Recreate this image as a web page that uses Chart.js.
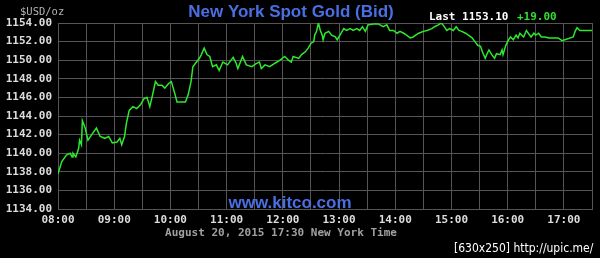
<!DOCTYPE html>
<html>
<head>
<meta charset="utf-8">
<script src="https://cdn.jsdelivr.net/npm/chart.js@4"></script>
<style>
  html, body { margin: 0; padding: 0; background: #000; }
  #wrap { width: 600px; height: 258px; }
</style>
</head>
<body>
<div id="wrap"><canvas id="c1" width="600" height="258"></canvas></div>
<script>
// minutes after 08:00 New York time, and the bid at that moment
var minutesFromOpen = [
  0, 4, 9, 13, 15, 16, 19, 22, 23, 25,
  26, 29, 32, 36, 41, 45, 50, 54, 58, 63,
  66, 68, 71, 73, 76, 80, 84, 88, 92, 95,
  98, 101, 104, 107, 111, 114, 118, 121, 125, 127,
  132, 136, 139, 142, 144, 147, 151, 153, 156, 159,
  162, 165, 169, 172, 176, 181, 187, 190, 192, 197,
  201, 207, 211, 215, 217, 221, 226, 232, 237, 242,
  246, 249, 251, 257, 260, 264, 267, 270, 273, 274,
  276, 278, 280, 282, 283, 285, 289, 292, 296, 298,
  301, 305, 308, 312, 315, 319, 322, 325, 328, 331,
  337, 342, 347, 351, 354, 358, 362, 365, 369, 372,
  376, 379, 385, 390, 394, 399, 402, 406, 409, 411,
  415, 418, 422, 425, 428, 431, 435, 438, 442, 445,
  448, 451, 453, 456, 458, 460, 463, 466, 468, 472,
  474, 475, 478, 481, 483, 486, 489, 491, 493, 497,
  500, 502, 505, 508, 510, 513, 516, 520, 524, 529,
  534, 538, 541, 547, 550, 552, 554, 557, 564, 570
];
var bidPrices = [
  1137.8, 1139.1, 1139.8, 1140.0, 1139.6, 1140.0, 1139.6, 1140.5, 1141.4, 1140.9,
  1143.5, 1142.7, 1141.4, 1142.0, 1142.7, 1141.8, 1141.6, 1141.8, 1141.1, 1141.2,
  1141.6, 1140.9, 1141.8, 1143.2, 1144.6, 1145.0, 1144.8, 1145.2, 1145.9, 1146.0,
  1145.0, 1146.3, 1147.7, 1147.3, 1147.3, 1147.0, 1147.5, 1147.7, 1146.3, 1145.5,
  1145.5, 1145.5, 1146.3, 1147.7, 1149.3, 1149.7, 1150.2, 1150.6, 1151.3, 1150.6,
  1150.4, 1149.3, 1149.5, 1148.9, 1149.8, 1149.5, 1150.3, 1149.7, 1149.1, 1150.4,
  1149.5, 1149.3, 1149.6, 1149.8, 1149.1, 1149.5, 1149.3, 1149.7, 1150.0, 1150.4,
  1150.0, 1149.8, 1150.4, 1150.2, 1150.6, 1150.9, 1151.3, 1151.8, 1152.0, 1152.7,
  1153.1, 1154.0, 1153.2, 1152.7, 1152.2, 1152.9, 1153.1, 1152.7, 1152.5, 1152.2,
  1152.7, 1153.4, 1153.2, 1153.4, 1153.2, 1153.4, 1153.2, 1153.6, 1153.1, 1153.8,
  1153.9, 1153.9, 1153.6, 1153.8, 1153.2, 1153.2, 1152.9, 1153.1, 1152.9, 1152.7,
  1152.4, 1152.5, 1152.9, 1153.1, 1153.2, 1153.4, 1153.6, 1153.8, 1154.0, 1153.8,
  1153.2, 1153.4, 1153.2, 1153.6, 1153.2, 1153.1, 1152.9, 1152.7, 1152.4, 1152.0,
  1151.6, 1151.5, 1150.9, 1150.2, 1150.7, 1151.1, 1150.6, 1150.2, 1150.7, 1150.6,
  1151.1, 1150.6, 1151.6, 1152.2, 1152.5, 1152.2, 1152.7, 1152.4, 1152.9, 1152.5,
  1153.2, 1152.9, 1152.5, 1152.9, 1152.7, 1152.9, 1152.5, 1152.5, 1152.4, 1152.4,
  1152.4, 1152.1, 1152.2, 1152.4, 1152.5, 1153.1, 1153.5, 1153.2, 1153.2, 1153.2
];
var hourLabels = ["08:00", "09:00", "10:00", "11:00", "12:00", "13:00", "14:00", "15:00", "16:00", "17:00"];
var lastPrice = "1153.10";
var change = "+19.00";

var MONO = "'DejaVu Sans Mono', monospace";
var gridColor = "#555555";

var points = minutesFromOpen.map(function(m, i) {
  return { x: 8 + m / 60, y: bidPrices[i] };
});

// all the loose text round the plot
var kitcoText = {
  id: "kitcoText",
  afterDraw: function(chart) {
    var ctx = chart.ctx;
    ctx.save();
    ctx.textBaseline = "alphabetic";

    ctx.fillStyle = "#4a6fe3";
    ctx.font = "bold 17px 'Liberation Sans', Arial, sans-serif";
    ctx.textAlign = "center";
    ctx.fillText("New York Spot Gold (Bid)", 291, 17, 213);
    ctx.fillText("www.kitco.com", 290, 208, 126);

    ctx.textAlign = "left";
    ctx.font = "10.5px " + MONO;
    ctx.fillStyle = "#b4b4b4";
    ctx.fillText("$USD/oz", 20, 15);

    ctx.font = "bold 11px " + MONO;
    ctx.fillStyle = "#ffffff";
    ctx.fillText("Last " + lastPrice, 429, 20);
    ctx.fillStyle = "#33dd33";
    ctx.fillText(change, 517, 20);

    ctx.font = "bold 11px " + MONO;
    ctx.fillStyle = "#a0a0a0";
    ctx.textAlign = "center";
    ctx.fillText("August 20, 2015 17:30 New York Time", 281, 236, 232);

    ctx.font = "12px 'DejaVu Sans Condensed', 'DejaVu Sans', sans-serif";
    ctx.fillStyle = "#ffffff";
    ctx.textAlign = "left";
    ctx.fillText("[630x250] http://upic.me/", 454, 252, 140);
    ctx.restore();
  }
};

var ctx = document.getElementById("c1");
var goldChart = new Chart(ctx, {
  type: "line",
  data: {
    datasets: [
      {
        data: points,
        borderColor: "#2ee82e",
        borderWidth: 1.5,
        pointRadius: 0,
        tension: 0,
        fill: false
      }
    ]
  },
  options: {
    responsive: false,
    animation: false,
    layout: { padding: { top: 23, right: 8, left: 0, bottom: 0 } },
    plugins: {
      legend: { display: false },
      tooltip: { enabled: false }
    },
    scales: {
      x: {
        type: "linear",
        min: 8,
        max: 17.5,
        afterFit: function(scale) { scale.height = 49; },
        grid: { color: gridColor, drawTicks: false },
        border: { color: gridColor },
        ticks: {
          stepSize: 0.5,
          autoSkip: false,
          maxRotation: 0,
          padding: 5,
          color: "#dddddd",
          font: { family: MONO, size: 11, weight: "bold" },
          callback: function(v) {
            return Number.isInteger(v) ? hourLabels[v - 8] : "";
          }
        }
      },
      y: {
        min: 1134,
        max: 1154,
        afterFit: function(scale) { scale.width = 58; },
        grid: { color: gridColor, drawTicks: false },
        border: { color: gridColor },
        ticks: {
          stepSize: 2,
          padding: 6,
          color: "#dddddd",
          font: { family: MONO, size: 11, weight: "bold" },
          callback: function(v) { return v.toFixed(2); }
        }
      }
    }
  },
  plugins: [kitcoText]
});
</script>
</body>
</html>
